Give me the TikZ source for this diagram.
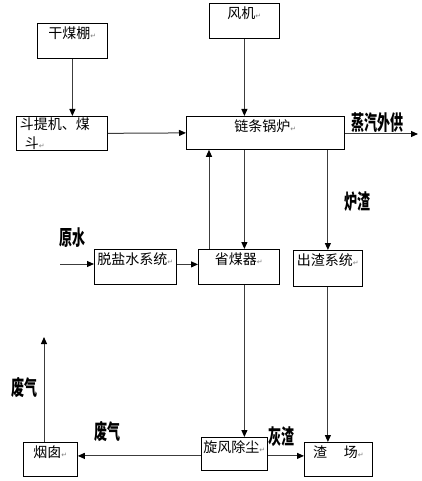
\documentclass[tikz,border=0pt]{standalone}
\usepackage{fontspec}
\setmainfont{Noto Sans CJK SC}
\newfontfamily\symfont{DejaVu Sans}
\usepackage{tikz}
\usetikzlibrary{arrows.meta}
\definecolor{lineGray}{RGB}{60,60,60}
\newcommand{\pmark}{{\symfont\color{gray}\fontsize{7}{7}\selectfont ↵}}

\begin{document}
\begin{tikzpicture}[x=1pt, y=-1pt,
    box/.style={draw, line width=0.8pt, anchor=north west, inner xsep=2pt, inner ysep=3pt,
                text height=12pt, text depth=17pt, font=\fontsize{14}{16}\selectfont},
    flow/.style={draw=lineGray, line width=1pt, -{Triangle[length=7pt, width=6pt, color=black]}},
    tag/.style={font=\bfseries\fontsize{13}{13}\selectfont, inner sep=0pt, yscale=1.6, transform shape}]
  \useasboundingbox (0,0) rectangle (421,481);
  % boxes
  \node[box, minimum width=70pt] (dry) at (37,23) {干煤棚\pmark};
  \node[box, minimum width=70pt] (fan) at (209,3) {风机\pmark};
  \node[draw, line width=0.8pt, anchor=north west, minimum height=33pt, text width=84pt,
        inner xsep=3.5pt, inner ysep=1pt, align=left, font=\fontsize{14}{19}\selectfont]
        (hoist) at (16,116) {斗提机、煤\\\hspace{5pt}斗\pmark};
  \node[box, minimum width=158pt, text depth=15pt] (boiler) at (186,116) {链条锅炉\pmark};
  \node[box, minimum width=82pt] (desalt) at (94,249) {脱盐水系统\pmark};
  \node[box, minimum width=81pt] (econ) at (198,249) {省煤器\pmark};
  \node[box, minimum width=69pt, text depth=18pt] (slag) at (293,250) {出渣系统\pmark};
  \node[box, minimum width=54pt, text depth=16pt] (chimney) at (23,442) {烟囱\pmark};
  \node[box, minimum width=66pt, text depth=15pt] (cyclone) at (201,437) {旋风除尘\pmark};
  \node[box, minimum width=68pt, text depth=16pt] (yard) at (304,442) {渣\hspace{1.2em}场\pmark};
  % free ends
  \coordinate (steam) at (418,134);
  \coordinate (raw) at (60,264);
  \coordinate (exhaust) at (44,337);
  % connectors
  \draw[flow] (dry.south) -- (dry.south |- hoist.north);
  \draw[flow] (fan.south) -- (fan.south |- boiler.north);
  \draw[flow] (hoist.east) -- (boiler.west);
  \draw[flow] (boiler.east |- steam) -- (steam);
  \draw[flow] (raw) -- (raw -| desalt.west);
  \draw[flow] ([yshift=2.5pt]desalt.east) -- ([yshift=2.5pt]desalt.east -| econ.west);
  \draw[flow] ([xshift=11pt]econ.north west) -- ([xshift=11pt]econ.north west |- boiler.south);
  \draw[flow] (fan.south |- boiler.south) -- (fan.south |- econ.north);
  \draw[flow] (slag.north |- boiler.south) -- (slag.north);
  \draw[flow] (fan.south |- econ.south) -- (fan.south |- cyclone.north);
  \draw[flow] (slag.south) -- (slag.south |- yard.north);
  \draw[flow] ([yshift=-2pt]cyclone.west) -- ([yshift=-2pt]cyclone.west -| chimney.east);
  \draw[flow] ([yshift=-2pt]cyclone.east) -- ([yshift=-2pt]cyclone.east -| yard.west);
  \draw[flow] (exhaust |- chimney.north) -- (exhaust);
  % labels
  \node[tag] (steamlbl) at (377,123) {蒸汽外供};
  \node[tag] (slaglbl) at (357,202) {炉渣};
  \node[tag] (rawlbl) at (72,238) {原水};
  \node[tag] (gaslbl) at (25,388) {废气};
  \node[tag] (fluelbl) at (107,432) {废气};
  \node[tag] (ashlbl) at (281,437) {灰渣};
\end{tikzpicture}
\end{document}
